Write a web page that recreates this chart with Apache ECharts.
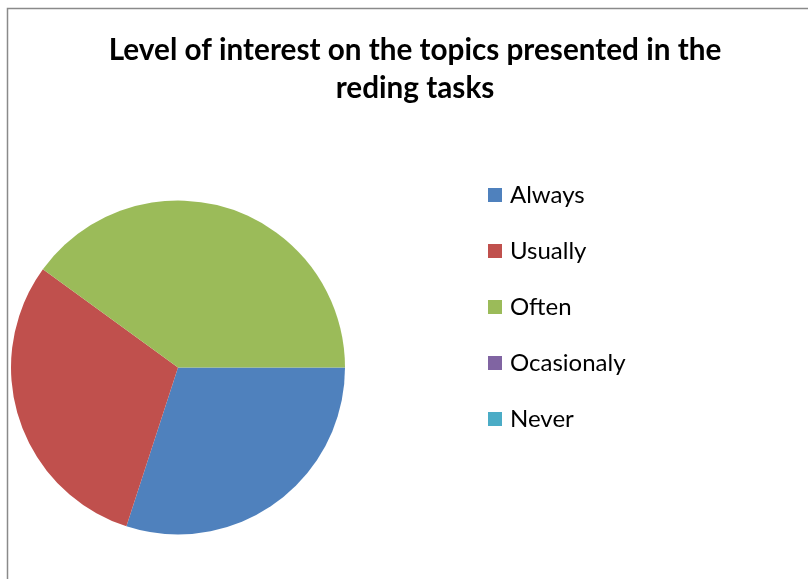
<!DOCTYPE html>
<html>
<head>
<meta charset="utf-8">
<script src="https://cdn.jsdelivr.net/npm/echarts@6/dist/echarts.min.js"></script>
<style>
  html, body { margin: 0; padding: 0; background: #fff; }
  #chart { width: 808px; height: 579px; }
</style>
</head>
<body>
<div id="chart"></div>
<script>
var titleText = 'Level of interest on the topics presented in the\nreding tasks';
var categories = ['Always', 'Usually', 'Often', 'Ocasionaly', 'Never'];
var values = [30, 30, 40, 0, 0];
var colors = ['#4F81BD', '#C0504D', '#9BBB59', '#8064A2', '#4BACC6'];

var pieData = [];
for (var i = 0; i < categories.length; i++) {
    pieData.push({ name: categories[i], value: values[i] });
}

var chart = echarts.init(document.getElementById('chart'));
chart.setOption({
    backgroundColor: '#fff',
    animation: false,
    color: colors,
    graphic: [{
        type: 'rect',
        shape: { x: 7.5, y: 8.5, width: 900, height: 700 },
        style: { fill: 'none', stroke: '#8a8a8a', lineWidth: 1.5 },
        silent: true
    }],
    title: {
        text: titleText,
        left: 415,
        top: 31,
        padding: 0,
        textAlign: 'center',
        textStyle: {
            fontFamily: 'Lato',
            fontWeight: 'bold',
            fontSize: 29.7,
            lineHeight: 38,
            color: '#000'
        }
    },
    legend: {
        orient: 'vertical',
        left: 488,
        top: 183,
        padding: 0,
        itemWidth: 14,
        itemHeight: 14,
        itemGap: 32,
        icon: 'rect',
        data: categories,
        textStyle: {
            fontFamily: 'Lato',
            fontSize: 24,
            lineHeight: 24,
            color: '#000',
            padding: [0, 0, 0, 3]
        }
    },
    series: [{
        type: 'pie',
        center: [178, 367.5],
        radius: [0, 167],
        startAngle: 0,
        clockwise: true,
        label: { show: false },
        labelLine: { show: false },
        itemStyle: { borderWidth: 0 },
        emphasis: { disabled: true },
        data: pieData
    }]
});
</script>
</body>
</html>
